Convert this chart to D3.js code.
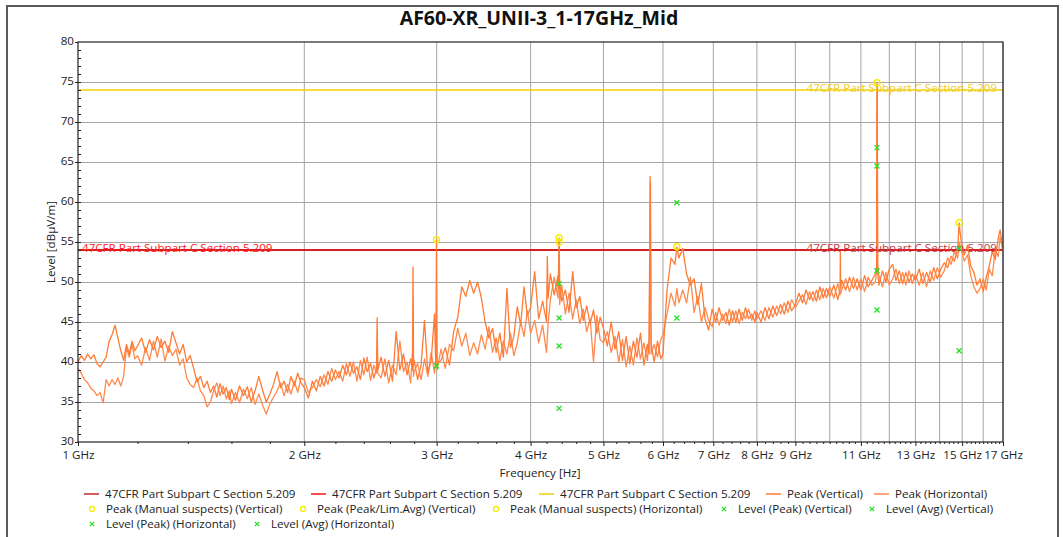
<!DOCTYPE html>
<html>
<head>
<meta charset="utf-8">
<script src="https://cdn.jsdelivr.net/npm/d3@7/dist/d3.min.js"></script>
<style>
html,body{margin:0;padding:0;background:#fff;}
svg{display:block;}
text{font-family:"Open Sans","Noto Sans","DejaVu Sans",sans-serif;}
</style>
</head>
<body>
<svg id="chart" width="1063" height="537"></svg>
<script>
// ---------------- data ----------------
const chartTitle = "AF60-XR_UNII-3_1-17GHz_Mid";
const xAxisTitle = "Frequency [Hz]";
const yAxisTitle = "Level [dBµV/m]";
const xDomainMHz = [1000, 17000];
const yDomain = [30, 80];
const xTickMHz = [1000, 2000, 3000, 4000, 5000, 6000, 7000, 8000, 9000, 11000, 13000, 15000, 17000];
const xTickLabels = ["1 GHz", "2 GHz", "3 GHz", "4 GHz", "5 GHz", "6 GHz", "7 GHz", "8 GHz", "9 GHz", "11 GHz", "13 GHz", "15 GHz", "17 GHz"];
const xGridMHz = [2000, 3000, 4000, 5000, 6000, 7000, 8000, 9000, 10000, 11000, 12000, 13000, 14000, 15000, 16000, 17000];
const yTicks = [30, 35, 40, 45, 50, 55, 60, 65, 70, 75, 80];
const yGrid = [35, 40, 45, 50, 55, 60, 65, 70, 75];
const limitName = "47CFR Part Subpart C Section 5.209";
const limitPeakLevel = 74;
const limitAvgLevel = 54;

const freqMHz = [
 1000,1010,1020,1030,1040,1050,1060,1070,1080,1090,1100,1110,1120,1130,1140,1150,1160,1170,1180,1190,
 1200,1215,1230,1245,1260,1275,1290,1305,1320,1335,1350,1365,1380,1395,1410,1425,1440,1455,1470,1485,1500,1515,1530,1545,1560,1575,1590,
 1600,1620,1640,1660,1680,1700,1720,1740,1760,1780,1800,1820,1840,1860,1880,1900,1920,1940,1960,1980,
 2000,2025,2050,2075,2100,2125,2150,2175,2200,2225,2250,2275,2300,2325,2350,2375,2400,2425,2450,2475,2495,
 2500,2505,2530,2560,2590,2620,2650,2680,2710,2740,2770,2785,2790,2795,2800,2830,2860,2890,2920,2950,2980,2992,2998,3004,
 3040,3080,3120,3160,3200,3240,3280,3320,3360,3400,3440,3480,3520,3560,3600,3640,3680,3720,3760,3800,3840,3880,3920,3960,
 4000,4050,4100,4150,4200,4210,4220,4250,4300,4350,4358,4365,4372,4400,4450,4500,4550,4600,4650,4700,4750,4800,4850,4900,4950,
 5000,5060,5120,5180,5240,5300,5360,5420,5480,5540,5600,5660,5720,5750,5768,5775,5785,5840,5900,5960,
 6000,6075,6150,6225,6260,6300,6375,6450,6525,6600,6675,6750,6825,6900,6975,7050,7125,7200,7275,7350,7425,7500,7575,7650,7725,7800,7875,7950,
 8000,8100,8200,8300,8400,8500,8600,8700,8800,8900,9000,9100,9200,9300,9400,9500,9600,9700,9800,9900,
 10000,10125,10250,10320,10330,10340,10375,10500,10625,10750,10875,11000,11125,11250,11375,11500,11545,11555,11565,11580,11625,11750,11875,12000,12125,12250,12375,12500,12625,12750,12875,
 13000,13150,13300,13450,13600,13750,13900,14050,14200,14350,14500,14650,14800,14860,14950,15100,15250,15400,15550,15700,15850,16000,16150,16300,16450,16600,16750,16850,17000
];

const peakVertical = [
 40.0,40.8,40.2,41.0,40.4,40.9,39.8,39.4,40.0,40.6,42.6,43.4,44.6,43.0,41.4,40.2,42.2,41.0,42.6,41.4,
 42.0,43.0,41.2,42.8,41.5,43.2,41.8,42.6,41.2,43.8,42.4,41.0,42.2,40.0,40.8,39.2,37.5,38.2,36.8,37.6,36.2,37.0,35.6,37.3,36.0,36.8,35.3,
 36.6,35.2,37.0,35.8,36.9,35.0,36.4,38.2,36.5,35.0,36.0,37.2,38.8,36.8,37.6,36.2,38.2,37.0,38.6,37.4,
 36.8,35.5,37.6,36.4,38.2,37.0,38.8,37.6,39.0,38.0,39.6,38.4,40.0,38.6,39.4,37.8,40.5,38.8,39.8,38.0,39.2,
 45.5,39.0,40.6,38.2,40.2,37.6,43.8,39.0,41.0,38.4,40.4,39.0,51.9,39.6,40.2,37.8,39.6,45.2,38.6,40.2,46.0,39.4,55.3,39.8,
 40.2,41.8,39.6,43.8,45.6,49.4,48.2,50.2,48.6,50.0,48.0,45.0,43.0,44.2,41.2,43.6,40.6,49.2,41.8,43.2,46.9,44.6,49.4,45.8,
 46.8,51.3,45.4,47.6,45.0,53.2,48.0,51.0,48.4,50.8,49.2,55.5,50.0,47.6,49.0,46.2,51.3,46.8,48.2,45.2,47.0,44.8,46.5,43.6,45.6,
 44.2,42.0,45.0,41.6,43.8,40.2,43.2,39.8,42.6,40.6,43.6,39.6,42.2,41.0,63.2,55.0,42.4,40.0,42.6,40.4,
 41.0,49.0,53.0,52.2,54.4,53.0,54.2,51.0,49.6,50.4,47.2,49.8,45.4,44.0,46.6,45.0,46.8,45.2,46.2,44.6,46.4,45.0,46.6,45.2,46.8,45.4,46.0,45.0,
 46.2,45.0,46.8,45.4,47.0,45.8,47.2,46.0,47.6,46.4,47.2,48.6,47.4,49.0,47.8,48.8,47.6,49.4,48.0,49.2,
 48.2,49.6,47.8,49.0,53.8,49.2,50.2,49.0,50.6,49.2,50.4,49.0,50.8,49.4,50.2,51.0,52.0,74.9,74.0,51.2,49.6,51.4,50.0,51.6,52.2,50.2,51.4,49.8,51.2,50.0,51.0,
 50.2,51.6,49.8,51.2,50.0,51.8,50.4,51.6,52.4,51.8,53.2,52.6,54.2,57.4,55.2,53.4,54.6,52.0,51.2,49.6,50.4,48.8,50.6,52.0,53.8,52.8,55.4,56.5,54.2
];

const peakHorizontal = [
 39.2,38.6,37.8,37.4,36.7,36.4,35.8,36.2,34.9,37.8,37.0,37.8,37.2,38.0,37.0,38.2,41.8,40.6,42.2,40.4,
 40.8,39.6,41.8,40.2,42.6,40.6,42.9,40.1,42.0,40.8,41.6,39.6,40.4,38.0,37.2,36.8,38.0,36.4,35.8,34.4,35.0,36.4,37.4,35.8,37.0,35.4,36.4,
 34.8,36.2,34.9,36.6,35.4,36.8,34.7,36.0,34.6,33.5,34.8,35.6,36.4,37.4,35.8,37.2,36.0,37.6,36.2,38.0,
 37.8,36.2,36.8,37.8,36.9,38.4,37.2,39.2,37.8,38.8,37.6,39.8,38.2,40.0,37.6,40.2,38.4,40.6,37.7,39.6,38.6,
 40.0,38.6,38.0,40.4,37.4,39.6,38.4,42.6,38.8,40.0,37.4,41.0,40.0,38.2,38.8,39.8,37.8,40.4,38.2,41.2,38.6,40.2,42.0,39.0,
 41.6,39.2,42.2,41.4,44.2,42.0,43.6,40.8,42.4,41.0,43.4,41.6,44.4,41.2,43.0,40.2,42.6,41.0,43.6,40.8,42.4,45.0,43.2,46.4,
 43.6,45.2,42.4,44.6,41.2,43.0,44.8,47.8,50.6,48.0,52.0,55.0,47.2,49.6,46.0,48.6,45.4,47.8,44.8,46.6,43.8,45.4,40.0,45.8,42.8,
 42.4,43.8,41.2,43.2,40.0,42.8,39.4,42.0,39.6,43.0,40.4,42.4,40.2,43.0,56.0,62.5,41.0,42.2,40.6,42.8,
 43.4,46.0,48.6,47.0,49.2,47.4,49.0,47.4,50.6,46.2,48.2,45.0,46.8,45.2,44.4,46.2,44.6,46.0,44.8,46.6,45.0,46.4,44.8,46.2,45.4,46.6,45.2,46.4,
 45.4,46.4,45.2,46.8,45.6,47.0,46.0,47.4,46.2,47.8,46.8,47.6,48.4,47.2,48.8,47.6,49.0,47.8,49.2,48.0,
 49.4,48.0,49.8,48.4,48.8,48.6,49.0,50.4,48.8,50.6,49.0,50.4,48.8,50.6,49.6,50.0,51.4,71.0,74.6,52.0,50.8,49.4,51.2,49.6,50.4,51.6,49.8,51.2,49.6,51.4,49.8,
 51.0,49.6,51.2,49.4,51.4,50.2,51.8,50.6,51.4,53.0,52.2,53.8,53.0,55.0,54.2,52.6,53.4,50.8,49.4,48.6,49.2,50.4,49.0,51.6,50.8,54.0,53.2,55.6,53.8
];

// final measurement markers [freqMHz, level]
const suspectsVertical = [[2998, 55.3], [4365, 55.5], [6260, 54.4], [11555, 74.9], [14860, 57.4]];
const suspectsHorizontal = [[4365, 55.0]];
const levelPeakVertical = [[2998, 39.5], [4365, 45.5], [6260, 59.9], [11555, 66.8], [14860, 54.2]];
const levelAvgVertical = [[4365, 34.2], [6260, 45.5], [11555, 46.5], [14860, 41.4]];
const levelPeakHorizontal = [[4365, 49.8], [11555, 64.5]];
const levelAvgHorizontal = [[4365, 42.0], [11555, 51.4]];

// ---------------- styles / layout ----------------
const W = 1063, H = 537;
const plot = {left: 78, right: 1003, top: 42, bottom: 442};
const FS = 11.6;
const colors = {
  limitDark: "#c0282e", limitRed: "#ff1010", limitYellow: "#f2d000",
  peakV: "#ff7b36", peakH: "#ff8a4e", suspect: "#f4ec00", level: "#22e022",
  grid: "#a6a6a6", axis: "#222", text: "#222"
};

const svg = d3.select("#chart");
svg.append("rect").attr("x", 0).attr("y", 0).attr("width", W).attr("height", H).attr("fill", "#fff");
// outer frame
svg.append("path").attr("d", `M7,${H+5}V6H1058V${H+5}`).attr("fill", "none").attr("stroke", "#5a5a5a").attr("stroke-width", 2);

const x = d3.scaleLog().domain(xDomainMHz).range([plot.left, plot.right]);
const y = d3.scaleLinear().domain(yDomain).range([plot.bottom, plot.top]);

// title
svg.append("text").attr("x", 539).attr("y", 25).attr("text-anchor", "middle")
  .attr("font-size", 19.5).attr("font-weight", "bold").attr("fill", "#111").text(chartTitle);

// grid
const g = svg.append("g");
g.selectAll(".hg").data(yGrid).enter().append("line")
  .attr("x1", plot.left).attr("x2", plot.right)
  .attr("y1", d => Math.round(y(d)) + 0.5).attr("y2", d => Math.round(y(d)) + 0.5)
  .attr("stroke", colors.grid).attr("stroke-width", 1);
g.selectAll(".vg").data(xGridMHz).enter().append("line")
  .attr("x1", d => x(d)).attr("x2", d => x(d))
  .attr("y1", plot.top).attr("y2", plot.bottom)
  .attr("stroke", colors.grid).attr("stroke-width", 1);

// limit lines
function limitLine(level, color, width) {
  svg.append("line").attr("x1", plot.left).attr("x2", plot.right)
    .attr("y1", y(level)).attr("y2", y(level))
    .attr("stroke", color).attr("stroke-width", width);
}
limitLine(limitAvgLevel, colors.limitDark, 2);
limitLine(limitAvgLevel, colors.limitRed, 0.8);
limitLine(limitPeakLevel, colors.limitYellow, 1.5);

// traces
svg.append("clipPath").attr("id", "pclip").append("rect")
  .attr("x", plot.left).attr("y", plot.top).attr("width", plot.right - plot.left).attr("height", plot.bottom - plot.top);
const line = d3.line().x(d => x(d[0])).y(d => y(d[1]));
const traceH = freqMHz.map((f, i) => [f, peakHorizontal[i]]);
const traceV = freqMHz.map((f, i) => [f, peakVertical[i]]);
const tg = svg.append("g").attr("clip-path", "url(#pclip)");
tg.append("path").attr("d", line(traceH)).attr("fill", "none").attr("stroke", colors.peakH).attr("stroke-width", 1.3).attr("stroke-linejoin", "round");
tg.append("path").attr("d", line(traceV)).attr("fill", "none").attr("stroke", colors.peakV).attr("stroke-width", 1.3).attr("stroke-linejoin", "round");

// limit labels
svg.append("text").attr("x", 997).attr("y", y(limitPeakLevel) + 1.5).attr("text-anchor", "end")
  .attr("font-size", FS).attr("fill", "#f0cc30").text(limitName);
svg.append("text").attr("x", 997).attr("y", y(limitAvgLevel) + 1.5).attr("text-anchor", "end")
  .attr("font-size", FS).attr("fill", "#c03c48").text(limitName);
svg.append("text").attr("x", 82).attr("y", y(limitAvgLevel) + 1.5).attr("text-anchor", "start")
  .attr("font-size", FS).attr("fill", "#ff2020").text(limitName);

// markers
const xPath = "M-2.5,-2.5L2.5,2.5M-2.5,2.5L2.5,-2.5";
function circles(arr) {
  svg.append("g").selectAll("circle").data(arr).enter().append("circle")
    .attr("cx", d => x(d[0])).attr("cy", d => y(d[1])).attr("r", 3)
    .attr("fill", "none").attr("stroke", colors.suspect).attr("stroke-width", 1.4);
}
function crosses(arr) {
  svg.append("g").selectAll("path").data(arr).enter().append("path")
    .attr("transform", d => `translate(${x(d[0])},${y(d[1])})`).attr("d", xPath)
    .attr("fill", "none").attr("stroke", colors.level).attr("stroke-width", 1.3);
}
circles(suspectsVertical); circles(suspectsHorizontal);
crosses(levelPeakVertical); crosses(levelAvgVertical); crosses(levelPeakHorizontal); crosses(levelAvgHorizontal);

// plot border
svg.append("rect").attr("x", plot.left).attr("y", plot.top).attr("width", plot.right - plot.left).attr("height", plot.bottom - plot.top)
  .attr("fill", "none").attr("stroke", colors.axis).attr("stroke-width", 1.2);

// axes
const xAxis = d3.axisBottom(x).tickValues(xTickMHz).tickFormat((d, i) => xTickLabels[i]).tickSize(4).tickPadding(5);
const xa = svg.append("g").attr("transform", `translate(0,${plot.bottom})`).call(xAxis);
const xMinor = d3.range(1200, 17000, 200).filter(v => v % 1000 !== 0);
const xMinorTickValues = xMinor.concat([10000, 12000, 14000, 16000]);
const xam = svg.append("g").attr("transform", `translate(0,${plot.bottom})`)
  .call(d3.axisBottom(x).tickValues(xMinorTickValues).tickFormat("").tickSize(2));
const yAxis = d3.axisLeft(y).tickValues(yTicks).tickSize(3).tickPadding(1);
const ya = svg.append("g").attr("transform", `translate(${plot.left},0)`).call(yAxis);
const yam = svg.append("g").attr("transform", `translate(${plot.left},0)`)
  .call(d3.axisRight(y).tickValues(d3.range(31, 80, 1)).tickFormat("").tickSize(3));
[xa, xam, ya, yam].forEach(a => {
  a.select(".domain").remove();
  a.selectAll("line").attr("stroke", colors.axis);
  a.selectAll("text").attr("font-size", FS).attr("fill", colors.text).attr("font-family", '"Open Sans","Noto Sans",sans-serif');
});
ya.selectAll("text").attr("dy", "0.2em");

// axis titles
svg.append("text").attr("x", 540).attr("y", 477).attr("text-anchor", "middle").attr("font-size", FS).attr("fill", colors.text).text(xAxisTitle);
svg.append("text").attr("transform", "translate(55,242) rotate(-90)").attr("text-anchor", "middle").attr("font-size", FS).attr("fill", colors.text).text(yAxisTitle);

// legend
const legendItems = [
  {type: "line", color: colors.limitDark, name: limitName, row: 0, x: 84},
  {type: "line", color: colors.limitRed, name: limitName, row: 0, x: 311},
  {type: "line", color: colors.limitYellow, name: limitName, row: 0, x: 539},
  {type: "line", color: colors.peakV, name: "Peak (Vertical)", row: 0, x: 766},
  {type: "line", color: colors.peakH, name: "Peak (Horizontal)", row: 0, x: 874},
  {type: "circle", color: colors.suspect, name: "Peak (Manual suspects) (Vertical)", row: 1, x: 85},
  {type: "circle", color: colors.suspect, name: "Peak (Peak/Lim.Avg) (Vertical)", row: 1, x: 296},
  {type: "circle", color: colors.suspect, name: "Peak (Manual suspects) (Horizontal)", row: 1, x: 489},
  {type: "cross", color: colors.level, name: "Level (Peak) (Vertical)", row: 1, x: 717},
  {type: "cross", color: colors.level, name: "Level (Avg) (Vertical)", row: 1, x: 865},
  {type: "cross", color: colors.level, name: "Level (Peak) (Horizontal)", row: 2, x: 85},
  {type: "cross", color: colors.level, name: "Level (Avg) (Horizontal)", row: 2, x: 250}
];
const rowY = [494, 509, 524];
const lg = svg.append("g");
legendItems.forEach(it => {
  const cy = rowY[it.row];
  if (it.type === "line") {
    lg.append("line").attr("x1", it.x).attr("x2", it.x + 15).attr("y1", cy).attr("y2", cy).attr("stroke", it.color).attr("stroke-width", 1.5);
  } else if (it.type === "circle") {
    lg.append("circle").attr("cx", it.x + 7).attr("cy", cy).attr("r", 2.5).attr("fill", "none").attr("stroke", it.color).attr("stroke-width", 1.3);
  } else {
    lg.append("path").attr("transform", `translate(${it.x + 7},${cy})`).attr("d", "M-2.2,-2.2L2.2,2.2M-2.2,2.2L2.2,-2.2").attr("fill", "none").attr("stroke", it.color).attr("stroke-width", 1.2);
  }
  lg.append("text").attr("x", it.x + 21).attr("y", cy + 4).attr("font-size", FS).attr("fill", colors.text).text(it.name);
});
</script>
</body>
</html>
